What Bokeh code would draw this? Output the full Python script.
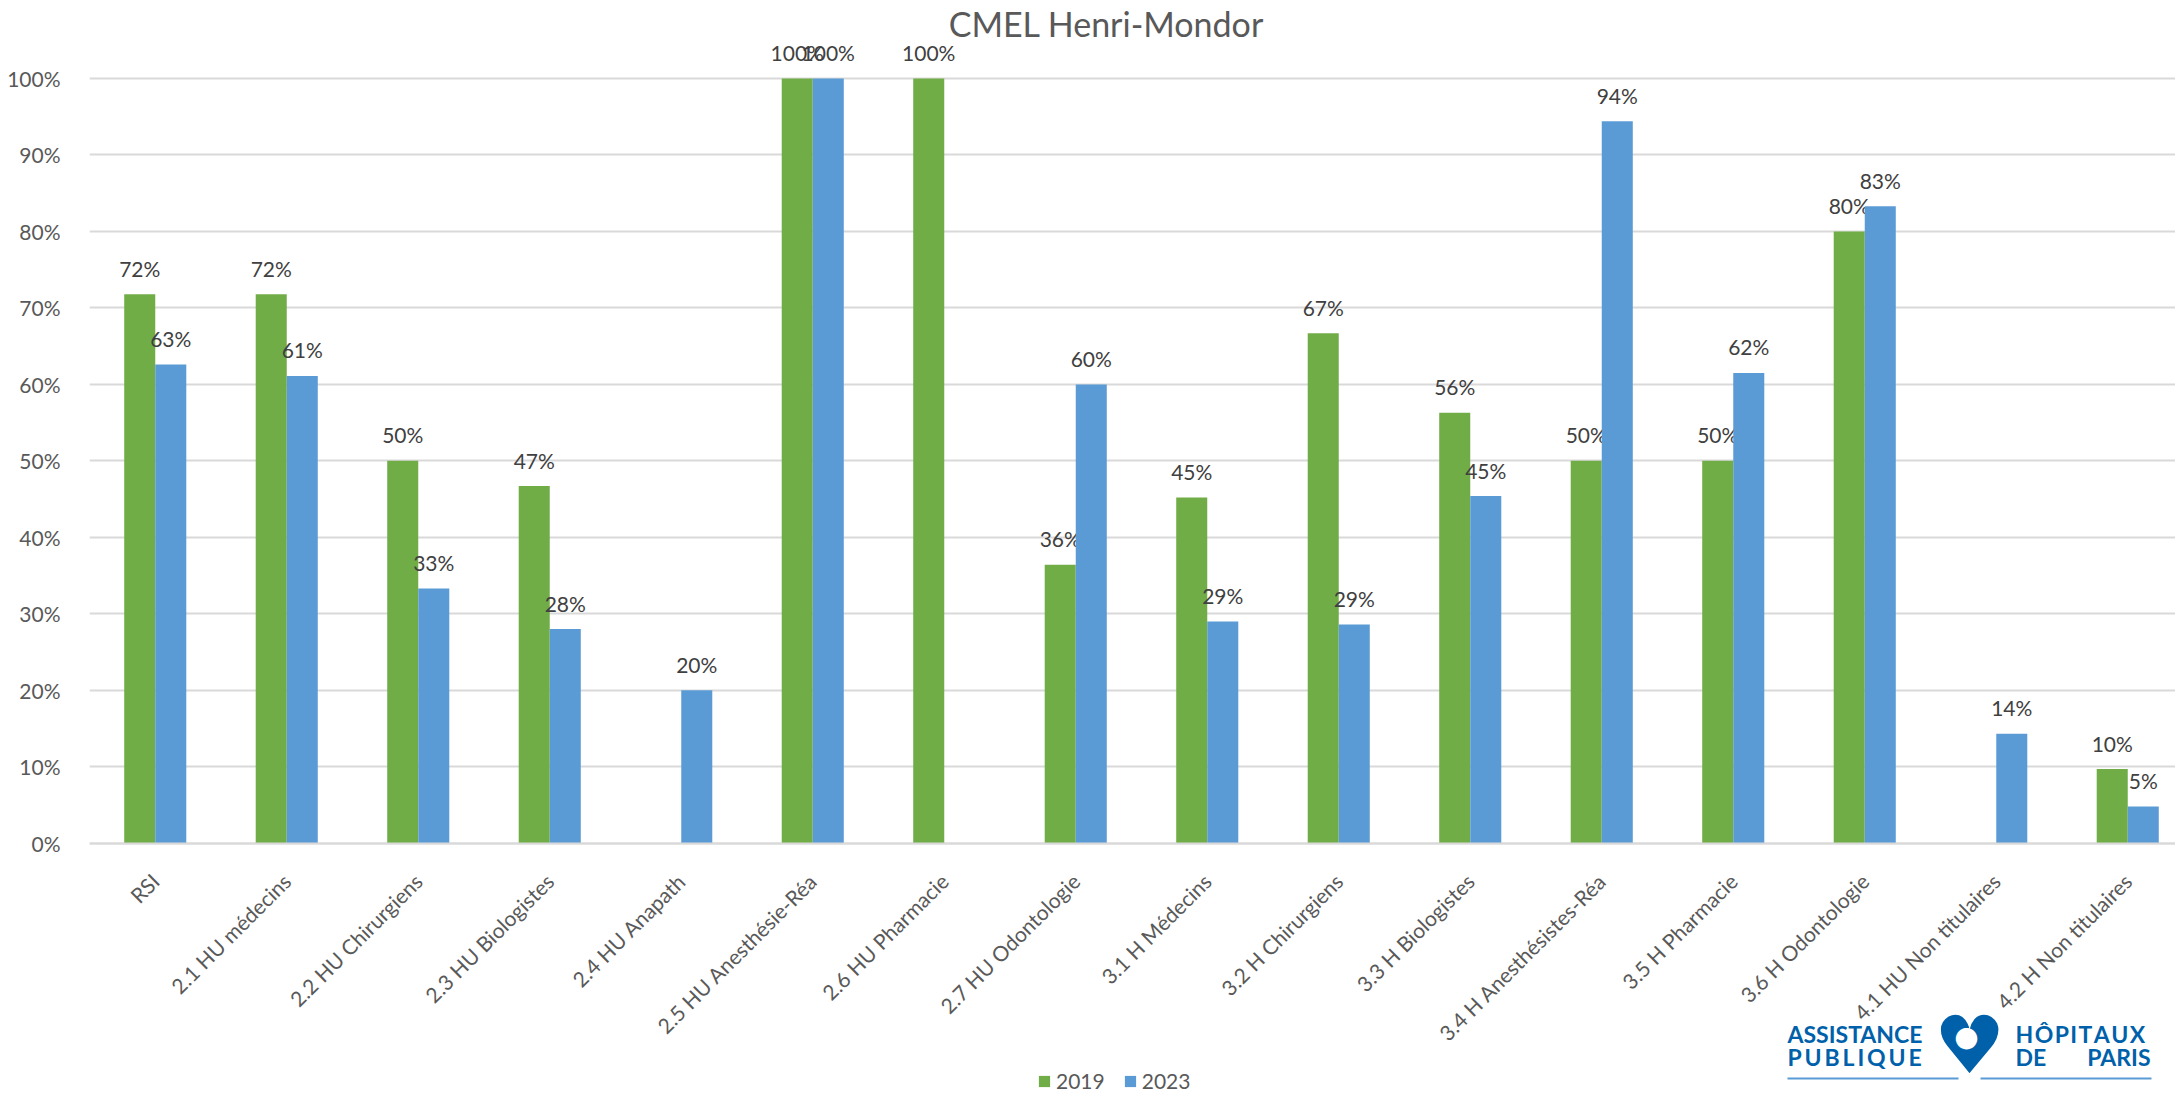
import math
from bokeh.plotting import figure
from bokeh.models import (ColumnDataSource, Range1d, FixedTicker, NumeralTickFormatter,
                          Label, Legend, LegendItem, BoxAnnotation)
from bokeh.core.properties import value
from bokeh.embed import file_html
from bokeh.resources import INLINE

# ---------------- data ----------------
categories = [
    "RSI", "2.1 HU médecins", "2.2 HU Chirurgiens", "2.3 HU Biologistes",
    "2.4 HU Anapath", "2.5 HU Anesthésie-Réa", "2.6 HU Pharmacie",
    "2.7 HU Odontologie", "3.1 H Médecins", "3.2 H Chirurgiens",
    "3.3 H Biologistes", "3.4 H Anesthésistes-Réa", "3.5 H Pharmacie",
    "3.6 H Odontologie", "4.1 HU Non titulaires", "4.2 H Non titulaires",
]
series_names = ["2019", "2023"]
values_2019 = [0.718, 0.718, 0.50, 0.467, None, 1.00, 1.00, 0.364,
               0.452, 0.667, 0.563, 0.50, 0.50, 0.80, None, 0.097]
values_2023 = [0.626, 0.611, 0.333, 0.28, 0.20, 1.00, None, 0.60,
               0.29, 0.286, 0.454, 0.944, 0.615, 0.833, 0.143, 0.048]
y_ticks = [0.0, 0.1, 0.2, 0.3, 0.4, 0.5, 0.6, 0.7, 0.8, 0.9, 1.0]
title_text = "CMEL Henri-Mondor"

# ---------------- style / layout ----------------
GREEN = "#70AD47"
BLUE = "#5B9BD5"
GRID = "#D9D9D9"
AXIS_TXT = "#595959"
LABEL_TXT = "#404040"
LOGO = "#0061AA"
FONT = "Lato"

W, H = 2175, 1094
LEFT = 89            # frame left (page px)
ZERO_Y = 842.7       # page y of the 0% line
PX_PER_UNIT_Y = 764.7
PX_PER_CAT = 131.5
frame_w = W - LEFT
x_end = frame_w / PX_PER_CAT
y_top = ZERO_Y / PX_PER_UNIT_Y
y_bottom = -(H - ZERO_Y) / PX_PER_UNIT_Y
BAR_W = 0.236
OFFSET = BAR_W / 2

p = figure(width=W, height=H, x_range=Range1d(0, x_end), y_range=Range1d(y_bottom, y_top),
           output_backend="svg", toolbar_location=None, title=None,
           min_border_left=LEFT, min_border_right=0, min_border_top=0,
           min_border_bottom=0)
p.outline_line_color = None
p.background_fill_color = "white"
p.border_fill_color = "white"

p.xgrid.visible = False
p.ygrid.grid_line_color = GRID
p.ygrid.grid_line_width = 2

# y axis
p.yaxis.ticker = FixedTicker(ticks=y_ticks)
p.yaxis.formatter = NumeralTickFormatter(format="0%")
p.yaxis.axis_line_color = None
p.yaxis.major_tick_line_color = None
p.yaxis.minor_tick_line_color = None
p.yaxis.major_label_standoff = 23
p.yaxis.major_label_text_font = FONT
p.yaxis.major_label_text_font_size = "21px"
p.yaxis.major_label_text_color = AXIS_TXT

# x axis, pinned at the 0 line
centers = [i + 0.5 for i in range(len(categories))]
p.xaxis.fixed_location = 0
p.xaxis.ticker = FixedTicker(ticks=centers)
p.xaxis.major_label_overrides = {c: cat for c, cat in zip(centers, categories)}
p.xaxis.major_label_orientation = math.pi / 4
p.xaxis.axis_line_color = GRID
p.xaxis.axis_line_width = 2
p.xaxis.major_tick_line_color = None
p.xaxis.minor_tick_line_color = None
p.xaxis.major_label_standoff = 28
p.xaxis.major_label_text_font = FONT
p.xaxis.major_label_text_font_size = "21px"
p.xaxis.major_label_text_color = AXIS_TXT


def make_source(vals, shift):
    xs, tops, labels = [], [], []
    for i, v in enumerate(vals):
        if v is None:
            continue
        xs.append(centers[i] + shift)
        tops.append(v)
        labels.append(f"{int(math.floor(v * 100 + 0.5))}%")
    return ColumnDataSource(dict(x=xs, top=tops, label=labels))


renderers = []
for vals, shift, color in [(values_2019, -OFFSET, GREEN), (values_2023, OFFSET, BLUE)]:
    src = make_source(vals, shift)
    r = p.vbar(x="x", top="top", bottom=0, width=BAR_W, source=src,
               fill_color=color, line_color=None)
    renderers.append(r)
    p.text(x="x", y="top", text="label", source=src, text_align="center",
           text_baseline="alphabetic", y_offset=-26, text_font=value(FONT),
           text_font_size="21px", text_color=LABEL_TXT)

# frame-relative screen coordinates (frame spans page x 89..2175, y 0..1094)
def sx(X):
    return X - LEFT
def sy(Y):
    return H - Y

legend = Legend(items=[LegendItem(label=n, renderers=[r]) for n, r in zip(series_names, renderers)],
                orientation="horizontal", location=(sx(1037), sy(1093)),
                glyph_width=14, glyph_height=14, label_standoff=5, spacing=18,
                padding=0, margin=0, border_line_color=None, background_fill_alpha=0,
                label_text_font=FONT, label_text_font_size="21px",
                label_text_color=AXIS_TXT)
p.add_layout(legend)

p.add_layout(Label(x=sx(1106), y=sy(23), x_units="screen", y_units="screen",
                   text=title_text, text_align="center", text_baseline="alphabetic",
                   text_font=FONT, text_font_size="34px", text_color=AXIS_TXT))

# logo
TS = "\u2009"   # thin space (letter spacing)
HS = "\u200a"   # hair space
for txt, X, Y, align in [("ASSISTANCE", 1787, 1033, "left"),
                         (TS.join("PUBLIQUE"), 1787, 1056, "left"),
                         (HS.join("HÔPITAUX"), 2015, 1033, "left"),
                         ("DE", 2015, 1056, "left"),
                         ("PARIS", 2150, 1056, "right")]:
    p.add_layout(Label(x=sx(X), y=sy(Y), x_units="screen", y_units="screen", text=txt,
                       text_align=align, text_baseline="alphabetic", text_font=FONT,
                       text_font_style="bold", text_font_size="23px", text_color=LOGO))
p.add_layout(Label(x=sx(1969), y=sy(1045), x_units="screen", y_units="screen", text="♥",
                   text_align="center", text_baseline="middle", text_font="DejaVu Sans",
                   text_font_size="80px", text_color=LOGO))
p.add_layout(Label(x=sx(1966), y=sy(1036), x_units="screen", y_units="screen", text="●",
                   text_align="center", text_baseline="middle", text_font="DejaVu Sans",
                   text_font_size="28px", text_color="white"))
for l, r in [(1787, 1958), (1980, 2151)]:
    p.add_layout(BoxAnnotation(left=sx(l), right=sx(r), bottom=sy(1079), top=sy(1077),
                               left_units="screen", right_units="screen",
                               bottom_units="screen", top_units="screen",
                               fill_color=BLUE, fill_alpha=1, line_color=None))

open("out.html", "w").write(file_html(p, INLINE))
